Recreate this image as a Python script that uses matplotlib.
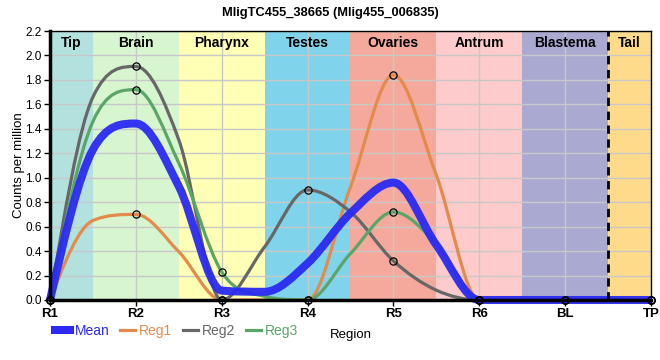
import numpy as np
import matplotlib
matplotlib.use('Agg')
import matplotlib.pyplot as plt
from matplotlib.path import Path
from matplotlib.patches import PathPatch
from matplotlib.lines import Line2D

plt.rcParams['font.family'] = ['Liberation Sans', 'DejaVu Sans']

# Data: values at the regions (markers)
regions = ['R1', 'R2', 'R3', 'R4', 'R5', 'R6', 'BL', 'TP']
reg1 = [0.0, 0.70, 0.0, 0.0, 1.84, 0.0, 0.0, 0.0]
reg2 = [0.0, 1.91, 0.0, 0.90, 0.32, 0.0, 0.0, 0.0]
reg3 = [0.0, 1.72, 0.23, 0.0, 0.72, 0.0, 0.0, 0.0]
mean = [0.0, 1.443, 0.077, 0.30, 0.96, 0.0, 0.0, 0.0]

# curve values read at the band borders (between regions)
reg1_mid = [0.65, 0.395, 0.0, 0.925, 1.02, 0.0, 0.0]
reg2_mid = [1.66, 1.31, 0.435, 0.72, 0.08, 0.0, 0.0]
reg3_mid = [1.46, 1.12, 0.03, 0.38, 0.46, 0.0, 0.0]
mean_mid = [1.23, 0.93, 0.067, 0.71, 0.45, 0.0, 0.0]

bands = ['Tip', 'Brain', 'Pharynx', 'Testes', 'Ovaries', 'Antrum', 'Blastema', 'Tail']
band_colors = ['#b3e2de', '#d7f5cf', '#ffffb5', '#7fd4ec', '#f4a99c',
               '#fdcbcb', '#a9a9d1', '#fedb8b']


# smooth cubic through the points, slopes limited so it never overshoots
def smooth_path(xs, ys):
    n = len(xs)
    s = [(ys[i + 1] - ys[i]) / (xs[i + 1] - xs[i]) for i in range(n - 1)]
    t = [0.0] * n
    for i in range(1, n - 1):
        if s[i - 1] * s[i] > 0:
            m = (ys[i + 1] - ys[i - 1]) / (xs[i + 1] - xs[i - 1])
            lim = 3 * min(abs(s[i - 1]), abs(s[i]))
            t[i] = max(-lim, min(lim, m))
    t[0] = (3 * s[0] - t[1]) / 2
    t[-1] = (3 * s[-1] - t[-2]) / 2
    verts = [(xs[0], ys[0])]
    codes = [Path.MOVETO]
    for i in range(n - 1):
        dx = (xs[i + 1] - xs[i]) / 3
        verts += [(xs[i] + dx, ys[i] + dx * t[i]),
                  (xs[i + 1] - dx, ys[i + 1] - dx * t[i + 1]),
                  (xs[i + 1], ys[i + 1])]
        codes += [Path.CURVE4] * 3
    return Path(verts, codes)


def merge(vals, mids):
    out = []
    for i, v in enumerate(vals):
        out.append(v)
        if i < len(mids):
            out.append(mids[i])
    return out


fig = plt.figure(figsize=(6.6, 3.6), dpi=100)
ax = fig.add_axes([50 / 660, 1 - 300 / 360, 601 / 660, 269 / 360])

x = list(range(len(regions)))
x_all = [i / 2 for i in range(2 * len(regions) - 1)]

# background bands
for i, (name, c) in enumerate(zip(bands, band_colors)):
    x0 = max(i - 0.5, 0)
    x1 = min(i + 0.5, len(regions) - 1)
    ax.axvspan(x0, x1, color=c, lw=0, zorder=0)
    ax.text((x0 + x1) / 2, 2.2 - 0.04, name, ha='center', va='top',
            fontsize=10, fontweight='bold', zorder=5)

ax.axvline(6.5, color='black', lw=2, ls=(0, (3, 2)), zorder=6)

ax.set_xlim(0, 7)
ax.set_ylim(0, 2.2)
yt = np.arange(0, 2.21, 0.2)
ax.set_yticks(yt)
ax.set_yticklabels(['%.1f' % v for v in yt], fontsize=8.5)
ax.set_xticks(x)
ax.set_xticklabels(regions, fontsize=9.5, fontweight='bold')
ax.grid(True, color='#c8c8c8', lw=1, zorder=1)
ax.set_axisbelow(True)
ax.tick_params(length=4, width=1, pad=2)

series = [(reg1, reg1_mid, '#e38b4b'),
          (reg2, reg2_mid, '#676767'),
          (reg3, reg3_mid, '#5aa567')]
for ys, mids, c in series:
    ax.add_patch(PathPatch(smooth_path(x_all, merge(ys, mids)), fc='none',
                           ec=c, lw=2.3, zorder=3, clip_on=False))
ax.add_patch(PathPatch(smooth_path(x_all, merge(mean, mean_mid)), fc='none',
                       ec='#2a2af2', lw=5.8, zorder=4, alpha=0.95,
                       clip_on=False))

for ys, mids, c in series:
    ax.plot(x, ys, ls='none', marker='o', ms=5.2, mfc='none', mec='black',
            mew=0.9, zorder=7, clip_on=False)

for side in ['left', 'bottom']:
    ax.spines[side].set_linewidth(2.5)
    ax.spines[side].set_zorder(6)
for side in ['top', 'right']:
    ax.spines[side].set_linewidth(1)

ax.set_ylabel('Counts per million', fontsize=9.5, labelpad=0)
ax.set_xlabel('Region', fontsize=9.5, labelpad=6)
ax.set_title('MligTC455_38665 (Mlig455_006835)', fontsize=9.3, fontweight='bold',
             pad=11, x=(330 - 50) / 601)

handles = [Line2D([], [], color='#2a2af2', lw=5.8),
           Line2D([], [], color='#e38b4b', lw=2.3),
           Line2D([], [], color='#676767', lw=2.3),
           Line2D([], [], color='#5aa567', lw=2.3)]
leg = fig.legend(handles, ['Mean', 'Reg1', 'Reg2', 'Reg3'], ncol=4,
                 loc='center left', bbox_to_anchor=(55 / 660, 1 - 331 / 360),
                 frameon=False, fontsize=10, handlelength=1.1,
                 handletextpad=0.3, columnspacing=0.75, borderaxespad=0,
                 borderpad=0)
for txt, h in zip(leg.get_texts(), handles):
    txt.set_color(h.get_color())

fig.savefig('out.png', dpi=100)
